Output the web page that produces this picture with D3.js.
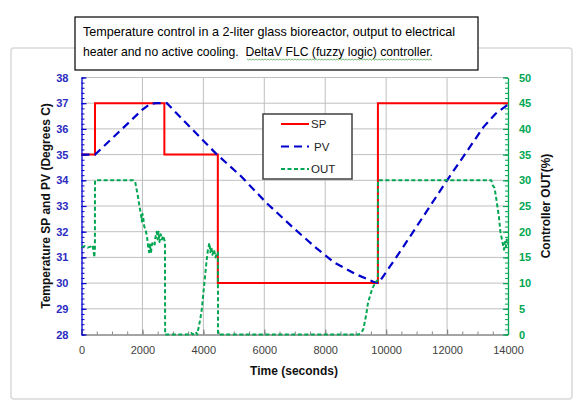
<!DOCTYPE html>
<html>
<head>
<meta charset="utf-8">
<script src="https://cdn.jsdelivr.net/npm/d3@7"></script>
<style>
body { margin:0; background:#fff; }
svg { display:block; font-family:"Liberation Sans", Arial, sans-serif; }
.ttl { white-space:pre; }
</style>
</head>
<body>
<svg id="chart" width="581" height="408"></svg>
<script>
// Setpoint (degrees C), step changes
var spTimes  = [0, 443, 2720, 4475, 9730, 14000];
var spValues = [35, 37, 35, 30, 37, 37];

// Process value (degrees C)
var pvTimes  = [0, 300, 443, 800, 1200, 1600, 2000, 2250, 2450, 2800, 3400, 4000, 4440, 5200, 6080, 7000, 7720, 8300, 9000, 9580, 9750, 10456, 11000, 12000, 13200, 13600, 14000];
var pvValues = [35, 35, 35, 35.4, 35.85, 36.3, 36.75, 36.97, 37, 37, 36.27, 35.54, 35.01, 34.2, 33.11, 32.1, 31.35, 30.8, 30.35, 30.05, 30, 31.22, 32.2, 34, 36.08, 36.6, 36.95];

// Controller output (%)
var outTimes  = [0, 100, 200, 300, 360, 400, 420, 440, 443, 1700, 1760, 1800, 1850, 1900, 1950, 1980, 2000, 2030, 2060, 2100, 2150, 2190, 2220, 2250, 2280, 2310, 2350, 2400, 2430, 2470, 2500, 2530, 2560, 2600, 2640, 2680, 2720, 2740, 2745,
                 3500, 3600, 3650, 3750, 3800, 3850, 3900, 3950, 4000, 4050, 4100, 4150, 4200, 4230, 4260, 4300, 4350, 4400, 4450, 4478, 4482,
                 9100, 9200, 9250, 9300, 9350, 9400, 9470, 9550, 9640, 9700, 9728, 9732,
                 13400, 13450, 13500, 13560, 13600, 13650, 13700, 13750, 13800, 13850, 13870, 13900, 13930, 13960, 14000];
var outValues = [17, 17.2, 16.9, 17.1, 17.4, 16.2, 15, 16.8, 30, 30, 29.8, 28.5, 27, 25, 23.5, 22, 23.5, 22.5, 21, 20.5, 19, 17, 16, 17.5, 15.8, 17.5, 18, 17.5, 19, 20, 18.5, 20, 18, 19.5, 18.5, 19.2, 18.4, 18, 0,
                 0, 0.3, 0, 0.5, 0, 1.5, 3, 5, 8, 11, 14, 16.5, 17.8, 16, 17, 15.5, 16.5, 15, 16, 16, 0,
                 0, 0.5, 1, 2.5, 4, 6, 7.5, 9, 10, 10.5, 10.5, 30,
                 30, 30, 29, 28.5, 27, 25, 23, 20, 18.5, 17, 16.5, 18, 17, 18.5, 17.5];

var xTicks = [0, 2000, 4000, 6000, 8000, 10000, 12000, 14000];
var leftTicks = [28, 29, 30, 31, 32, 33, 34, 35, 36, 37, 38];
var rightTicks = [0, 5, 10, 15, 20, 25, 30, 35, 40, 45, 50];
var seriesNames = ["SP", "PV", "OUT"];

var titleLines = ["Temperature control in a 2-liter glass bioreactor, output to electrical",
                  "heater and no active cooling.  DeltaV FLC (fuzzy logic) controller."];

var RED = "#ff0000", BLUE = "#0000cc", GREEN = "#00a651";
var L = 81.5, R = 508, T = 77.5, B = 334.5;

var svg = d3.select("#chart");

// chart frame
svg.append("rect").attr("x", 11).attr("y", 48).attr("width", 561).attr("height", 351)
    .attr("rx", 3).attr("fill", "#fff").attr("stroke", "#d9d9d9").attr("stroke-width", 1.5);

var x  = d3.scaleLinear().domain([0, 14000]).range([L, R]);
var yL = d3.scaleLinear().domain([28, 38]).range([B, T]);
var yR = d3.scaleLinear().domain([0, 50]).range([B, T]);

// grid
svg.append("g").selectAll("line").data(leftTicks.slice(1)).enter().append("line")
    .attr("x1", L).attr("x2", R).attr("y1", function(d){ return yL(d); }).attr("y2", function(d){ return yL(d); })
    .attr("stroke", "#bfbfbf").attr("stroke-width", 1);
svg.append("g").selectAll("line").data(xTicks.slice(1, -1)).enter().append("line")
    .attr("x1", function(d){ return x(d); }).attr("x2", function(d){ return x(d); }).attr("y1", T).attr("y2", B)
    .attr("stroke", "#bfbfbf").attr("stroke-width", 1);

// axes
var styleAxis = function(g, col) {
    g.select(".domain").attr("stroke", col).attr("stroke-width", 1.3);
    g.selectAll(".tick line").attr("stroke", col).attr("stroke-width", 1.2);
};

var gx = svg.append("g").attr("transform", "translate(0," + B + ")")
    .call(d3.axisBottom(x).tickValues(xTicks).tickSize(-5).tickSizeOuter(0).tickPadding(12).tickFormat(d3.format("d")));
styleAxis(gx, "#868686");
gx.selectAll("text").attr("fill", "#404040").attr("font-size", 11).attr("font-family", null);
var gxm = svg.append("g").attr("transform", "translate(0," + B + ")")
    .call(d3.axisBottom(x).tickValues(d3.range(0, 14001, 500)).tickSize(-3).tickFormat(""));
gxm.select(".domain").remove();
gxm.selectAll(".tick line").attr("stroke", "#868686");

var gl = svg.append("g").attr("transform", "translate(" + L + ",0)")
    .call(d3.axisLeft(yL).tickValues(leftTicks).tickSize(-5).tickSizeOuter(0).tickPadding(13));
styleAxis(gl, BLUE);
gl.selectAll("text").attr("fill", "#2b2bc0").attr("font-size", 11).attr("font-weight", "bold").attr("font-family", null);
var glm = svg.append("g").attr("transform", "translate(" + L + ",0)")
    .call(d3.axisLeft(yL).tickValues(d3.range(28, 38.01, 0.2)).tickSize(-3).tickFormat(""));
glm.select(".domain").remove();
glm.selectAll(".tick line").attr("stroke", BLUE);

var gr = svg.append("g").attr("transform", "translate(" + R + ",0)")
    .call(d3.axisRight(yR).tickValues(rightTicks).tickSize(-5).tickSizeOuter(0).tickPadding(11));
styleAxis(gr, GREEN);
gr.selectAll("text").attr("fill", GREEN).attr("font-size", 11).attr("font-weight", "bold").attr("font-family", null);
var grm = svg.append("g").attr("transform", "translate(" + R + ",0)")
    .call(d3.axisRight(yR).tickValues(d3.range(0, 51, 1)).tickSize(-3).tickFormat(""));
grm.select(".domain").remove();
grm.selectAll(".tick line").attr("stroke", GREEN);

// series
var spLine = d3.line().x(function(d){ return x(d[0]); }).y(function(d){ return yL(d[1]); }).curve(d3.curveStepAfter);
var pvLine = d3.line().x(function(d){ return x(d[0]); }).y(function(d){ return yL(d[1]); });
var outLine = d3.line().x(function(d){ return x(d[0]); }).y(function(d){ return yR(d[1]); });

svg.append("path").datum(d3.zip(spTimes, spValues)).attr("d", spLine)
    .attr("fill", "none").attr("stroke", RED).attr("stroke-width", 2);
svg.append("path").datum(d3.zip(pvTimes, pvValues)).attr("d", pvLine)
    .attr("fill", "none").attr("stroke", BLUE).attr("stroke-width", 2.2).attr("stroke-dasharray", "8,5");
svg.append("path").datum(d3.zip(outTimes, outValues)).attr("d", outLine)
    .attr("fill", "none").attr("stroke", GREEN).attr("stroke-width", 2).attr("stroke-dasharray", "4,2.5")
    .attr("stroke-linejoin", "round");

// axis titles
svg.append("text").attr("transform", "translate(50," + ((T + B) / 2) + ") rotate(-90)")
    .attr("text-anchor", "middle").attr("font-size", 12).attr("font-weight", "bold").attr("fill", "#111")
    .text("Temperature SP and PV (Degrees C)");
svg.append("text").attr("transform", "translate(550," + ((T + B) / 2) + ") rotate(-90)")
    .attr("text-anchor", "middle").attr("font-size", 12).attr("font-weight", "bold").attr("fill", "#111")
    .text("Controller OUT(%)");
svg.append("text").attr("x", 294).attr("y", 375)
    .attr("text-anchor", "middle").attr("font-size", 12).attr("font-weight", "bold").attr("fill", "#111")
    .text("Time (seconds)");

// legend
var leg = svg.append("g");
leg.append("rect").attr("x", 263).attr("y", 114).attr("width", 89).attr("height", 65)
    .attr("fill", "#fff").attr("stroke", "#404040").attr("stroke-width", 1.5);
var legStyle = [[RED, null, 2], [BLUE, "8,5", 2.2], [GREEN, "4,2.5", 2]];
seriesNames.forEach(function(n, i){
    var yy = 124 + i * 22.5;
    leg.append("line").attr("x1", 281).attr("x2", 309).attr("y1", yy).attr("y2", yy)
        .attr("stroke", legStyle[i][0]).attr("stroke-width", legStyle[i][2]).attr("stroke-dasharray", legStyle[i][1]);
    leg.append("text").attr("x", i == 1 ? 314 : 311).attr("y", yy + 4).attr("font-size", 11.5).attr("fill", "#222").text(n);
});

// title box
svg.append("rect").attr("x", 75).attr("y", 17).attr("width", 403).attr("height", 53)
    .attr("fill", "#fff").attr("stroke", "#000").attr("stroke-width", 1.2);
svg.append("text").attr("class", "ttl").attr("x", 83).attr("y", 36).attr("font-size", 13).attr("textLength", 372)
    .attr("lengthAdjust", "spacingAndGlyphs").attr("fill", "#000").text(titleLines[0]);
svg.append("text").attr("class", "ttl").attr("x", 83).attr("y", 56).attr("font-size", 13).attr("textLength", 350)
    .attr("lengthAdjust", "spacingAndGlyphs").attr("fill", "#000").text(titleLines[1]);
// spell-check squiggle under the last phrase
var sq = d3.range(247, 433, 1.5).map(function(px, i){ return [px, 59 + (i % 2)]; });
svg.append("path").attr("d", d3.line()(sq)).attr("fill", "none").attr("stroke", "#3a9a3a").attr("stroke-width", 0.7);
</script>
</body>
</html>
